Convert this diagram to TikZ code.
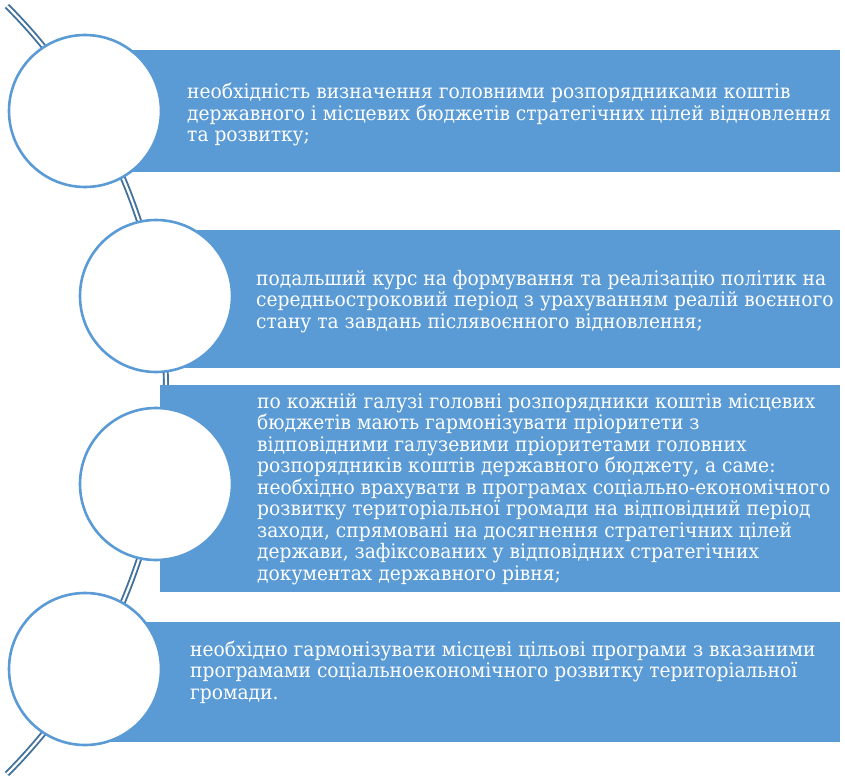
\documentclass[tikz,border=0pt]{standalone}
\usepackage{fontspec}
\newfontfamily\boxfont{DejaVu Serif}[FakeStretch=0.932]
\definecolor{boxblue}{HTML}{5B9BD5}
\definecolor{linedark}{HTML}{41719C}
\begin{document}
\begin{tikzpicture}[x=1pt,y=-1pt,
  bar/.style={fill=boxblue, draw=none},
  ring/.style={circle, draw=boxblue, line width=2.6pt, fill=white, minimum size=152pt, inner sep=0pt},
  txt/.style={anchor=base west, align=left, inner sep=0pt, text=white, font=\boxfont\fontsize{20}{21.5}\selectfont},
  spine/.style={draw=linedark, double=white, line width=1.9pt, double distance=2.2pt}
]
\useasboundingbox (0,0) rectangle (845,776);
% spine arc
\coordinate (arcc) at (-377,390);
\draw[spine] plot[domain=-45:45, samples=90, smooth] ({-377+543*cos(\x)}, {390+543*sin(\x)});
% bars
\path[bar] (85,50) rectangle (840,172);
\path[bar] (156,230) rectangle (840,368);
\path[bar] (160,385) rectangle (840,592);
\path[bar] (85,622) rectangle (840,742);
% circles
\node[ring] (c1) at (85,111) {};
\node[ring] (c2) at (156,296) {};
\node[ring] (c3) at (156,484) {};
\node[ring] (c4) at (85,669) {};
% texts (anchor = baseline of last line)
\node[txt] (t1) at (187,141.5) {необхідність визначення головними розпорядниками коштів\\державного і місцевих бюджетів стратегічних цілей відновлення\\та розвитку;};
\node[txt] (t2) at (256,328) {подальший курс на формування та реалізацію політик на\\середньостроковий період з урахуванням реалій воєнного\\стану та завдань післявоєнного відновлення;};
\node[txt] (t3) at (257,580.3) {по кожній галузі головні розпорядники коштів місцевих\\бюджетів мають гармонізувати пріоритети з\\відповідними галузевими пріоритетами головних\\розпорядників коштів державного бюджету, а саме:\\необхідно врахувати в програмах соціально-економічного\\розвитку територіальної громади на відповідний період\\заходи, спрямовані на досягнення стратегічних цілей\\держави, зафіксованих у відповідних стратегічних\\документах державного рівня;};
\node[txt] (t4) at (190,699) {необхідно гармонізувати місцеві цільові програми з вказаними\\програмами соціальноекономічного розвитку територіальної\\громади.};
\end{tikzpicture}
\end{document}
